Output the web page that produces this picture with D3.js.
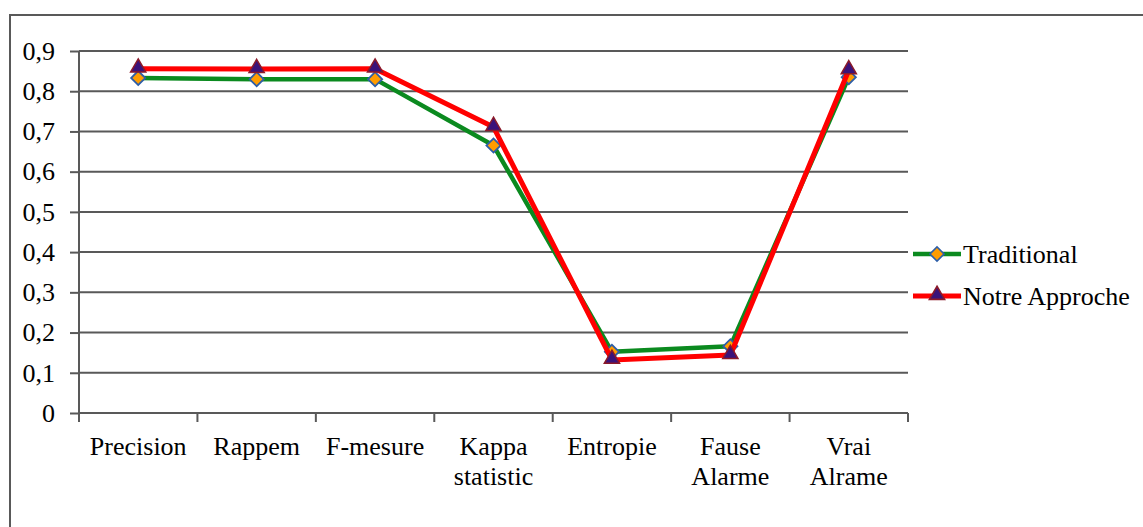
<!DOCTYPE html>
<html>
<head>
<meta charset="utf-8">
<script src="https://cdn.jsdelivr.net/npm/d3@7"></script>
<style>
  body { margin: 0; background: #fff; }
</style>
</head>
<body>
<div id="chart-area"></div>
<script>
// chart data
var categories = ["Precision", "Rappem", "F-mesure", "Kappa statistic", "Entropie", "Fause Alarme", "Vrai Alrame"];
var traditional = [0.833, 0.830, 0.830, 0.665, 0.152, 0.166, 0.835];
var notreApproche = [0.856, 0.855, 0.856, 0.711, 0.132, 0.144, 0.852];
var yTicks = [0, 0.1, 0.2, 0.3, 0.4, 0.5, 0.6, 0.7, 0.8, 0.9];
var seriesNames = ["Traditional", "Notre Approche"];

var W = 1143, H = 527;
var margin = {left: 79, top: 51, right: 235, bottom: 114};
var width = W - margin.left - margin.right;
var height = H - margin.top - margin.bottom;
var gridColor = "#595959";
var serif = "'Liberation Serif', 'Times New Roman', Times, serif";
var fontSize = "26px";

var svg = d3.select("#chart-area").append("svg")
  .attr("width", W)
  .attr("height", H)
  .style("font-family", serif);

// outer frame (cropped on right and bottom)
svg.append("path")
  .attr("d", "M10," + (H + 5) + "V15H" + (W + 5))
  .attr("fill", "none")
  .attr("stroke", gridColor)
  .attr("stroke-width", 2);

var g = svg.append("g")
  .attr("transform", "translate(" + margin.left + "," + margin.top + ")");

var x = d3.scaleBand().domain(categories).range([0, width]);
var y = d3.scaleLinear().domain([0, 0.9]).range([height, 0]);
var fmt = function(d) { return d3.format(".1f")(d).replace(".", ",").replace(/^0,0$/, "0"); };

// gridlines
g.append("g").selectAll("line").data(yTicks.slice(1)).enter().append("line")
  .attr("x1", 0).attr("x2", width)
  .attr("y1", function(d) { return y(d); })
  .attr("y2", function(d) { return y(d); })
  .attr("stroke", gridColor)
  .attr("stroke-width", 2);

// y axis
var yAxis = d3.axisLeft(y).tickValues(yTicks).tickFormat(fmt).tickSize(9).tickPadding(15);
var yAxisGroup = g.append("g").call(yAxis).attr("font-family", null).attr("font-size", null);
yAxisGroup.select(".domain").attr("stroke", gridColor).attr("stroke-width", 2).attr("d", "M0," + (height + 9) + "V0");
yAxisGroup.selectAll(".tick line").attr("stroke", gridColor).attr("stroke-width", 2);
yAxisGroup.selectAll(".tick text")
  .style("font-family", serif).style("font-size", fontSize).attr("fill", "#000");

// x axis
var xAxisGroup = g.append("g").attr("transform", "translate(0," + height + ")");
xAxisGroup.append("line")
  .attr("x1", 0).attr("x2", width)
  .attr("stroke", gridColor).attr("stroke-width", 2);
xAxisGroup.selectAll(".xtick").data(d3.range(categories.length + 1)).enter().append("line")
  .attr("x1", function(i) { return i * x.step(); })
  .attr("x2", function(i) { return i * x.step(); })
  .attr("y1", 0).attr("y2", 9)
  .attr("stroke", gridColor).attr("stroke-width", 2);
var labels = xAxisGroup.selectAll(".xlabel").data(categories).enter().append("text")
  .attr("text-anchor", "middle")
  .style("font-family", serif)
  .style("font-size", fontSize)
  .attr("transform", function(d) { return "translate(" + (x(d) + x.bandwidth() / 2) + ",42)"; });
labels.each(function(d) {
  var words = d.split(" ");
  var t = d3.select(this);
  words.forEach(function(w, i) {
    t.append("tspan").attr("x", 0).attr("y", i * 30).text(w);
  });
});

var cx = function(d, i) { return x(categories[i]) + x.bandwidth() / 2; };
var line = d3.line()
  .x(function(d, i) { return cx(d, i); })
  .y(function(d) { return y(d); });

var diamond = d3.symbol().type(d3.symbolSquare).size(100);
var triangle = d3.symbol().type(d3.symbolTriangle).size(100);

// Traditional
g.append("path").datum(traditional)
  .attr("d", line).attr("fill", "none")
  .attr("stroke", "#0b8a1f").attr("stroke-width", 4.5).attr("stroke-linejoin", "round");
g.selectAll(".trad").data(traditional).enter().append("path")
  .attr("d", diamond)
  .attr("transform", function(d, i) { return "translate(" + cx(d, i) + "," + y(d) + ") rotate(45)"; })
  .attr("fill", "#ff9c00").attr("stroke", "#2d5ea8").attr("stroke-width", 1.8);

// Notre Approche
g.append("path").datum(notreApproche)
  .attr("d", line).attr("fill", "none")
  .attr("stroke", "#ff0000").attr("stroke-width", 5).attr("stroke-linejoin", "round");
g.selectAll(".notre").data(notreApproche).enter().append("path")
  .attr("d", triangle)
  .attr("transform", function(d, i) { return "translate(" + cx(d, i) + "," + (y(d) - 1) + ")"; })
  .attr("fill", "#3a127a").attr("stroke", "#8b1a2a").attr("stroke-width", 1.5);

// legend
var legend = svg.append("g").attr("transform", "translate(913,254)");
var items = legend.selectAll("g").data(seriesNames).enter().append("g")
  .attr("transform", function(d, i) { return "translate(0," + i * 42 + ")"; });
items.append("line")
  .attr("x1", 0).attr("x2", 48)
  .attr("stroke", function(d, i) { return i === 0 ? "#0b8a1f" : "#ff0000"; })
  .attr("stroke-width", function(d, i) { return i === 0 ? 4.5 : 5; });
items.append("path")
  .attr("d", function(d, i) { return i === 0 ? diamond() : triangle(); })
  .attr("transform", function(d, i) { return i === 0 ? "translate(24,0) rotate(45)" : "translate(24,-1)"; })
  .attr("fill", function(d, i) { return i === 0 ? "#ff9c00" : "#3a127a"; })
  .attr("stroke", function(d, i) { return i === 0 ? "#2d5ea8" : "#8b1a2a"; })
  .attr("stroke-width", 1.6);
items.append("text")
  .attr("x", 50).attr("y", 0).attr("dy", "0.33em")
  .style("font-family", serif)
  .style("font-size", fontSize)
  .text(function(d) { return d; });
</script>
</body>
</html>
